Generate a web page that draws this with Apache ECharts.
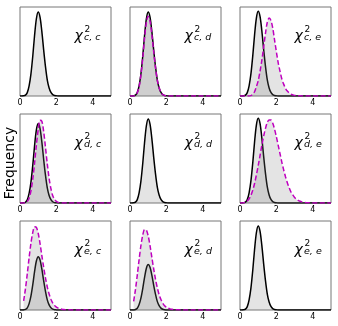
<!DOCTYPE html>
<html>
<head>
<meta charset="utf-8">
<script src="https://cdn.jsdelivr.net/npm/echarts@6/dist/echarts.min.js"></script>
<style>
  html, body { margin: 0; padding: 0; background: #fff; }
  #chart { width: 338px; height: 326px; }
</style>
</head>
<body>
<div id="chart"></div>
<script>
// x positions of the density samples
const xGrid = [0.0,0.1,0.2,0.3,0.4,0.5,0.6,0.7,0.8,0.9,1.0,1.1,1.2,1.3,1.4,1.5,1.6,1.7,1.8,1.9,
  2.0,2.1,2.2,2.3,2.4,2.5,2.6,2.7,2.8,2.9,3.0,3.1,3.2,3.3,3.4,3.5,3.6,3.7,3.8,3.9,
  4.0,4.1,4.2,4.3,4.4,4.5,4.6,4.7,4.8,4.9,5.0];

// black reference curve (same in every panel)
const blackCurve = [0,0,0.002,0.01,0.04,0.12,0.26,0.47,0.72,0.92,1.0,0.94,0.77,0.55,0.35,0.19,0.095,0.042,0.016,0.005,
  0.002,0,0,0,0,0,0,0,0,0,0,0,0,0,0,0,0,0,0,0,0,0,0,0,0,0,0,0,0,0,0];

// magenta dashed curves
const magCD = [0,0,0,0.01,0.04,0.11,0.25,0.45,0.69,0.88,0.95,0.89,0.73,0.53,0.34,0.19,0.10,0.045,0.018,0.006,
  0.002,0,0,0,0,0,0,0,0,0,0,0,0,0,0,0,0,0,0,0,0,0,0,0,0,0,0,0,0,0,0];
const magCE = [0,0,0,0,0,0,0.005,0.02,0.05,0.11,0.18,0.29,0.42,0.58,0.74,0.87,0.92,0.89,0.80,0.66,
  0.52,0.39,0.29,0.20,0.14,0.09,0.058,0.037,0.021,0.013,0.007,0.005,0.003,0.002,0.001,0.001,0,0,0,0,
  0,0,0,0,0,0,0,0,0,0,0];
const magDC = [0,0,0,0.005,0.02,0.06,0.15,0.30,0.50,0.73,0.92,1.04,1.03,0.90,0.70,0.49,0.31,0.18,0.09,0.045,
  0.02,0.008,0.003,0,0,0,0,0,0,0,0,0,0,0,0,0,0,0,0,0,0,0,0,0,0,0,0,0,0,0,0];
const magDE = [0,0,0.003,0.01,0.025,0.05,0.09,0.15,0.23,0.33,0.44,0.56,0.68,0.79,0.88,0.95,0.98,0.98,0.94,0.87,
  0.78,0.68,0.58,0.48,0.39,0.31,0.24,0.18,0.13,0.095,0.065,0.045,0.03,0.02,0.013,0.008,0.005,0.003,0.002,0.001,
  0.001,0,0,0,0,0,0,0,0,0,0];
const magEC = [null,null,0.17,0.40,0.68,0.98,1.25,1.45,1.56,1.55,1.44,1.25,1.02,0.80,0.60,0.43,0.30,0.20,0.13,0.085,
  0.055,0.035,0.022,0.014,0.009,0.006,0.004,0.003,0.002,0.001,0.001,0,0,0,0,0,0,0,0,0,
  0,0,0,0,0,0,0,0,0,0,0];
const magED = [null,null,0.19,0.45,0.77,1.11,1.42,1.65,1.77,1.76,1.63,1.42,1.16,0.91,0.68,0.49,0.34,0.23,0.15,0.096,
  0.062,0.04,0.025,0.016,0.01,0.007,0.004,0.003,0.002,0.001,0.001,0,0,0,0,0,0,0,0,0,
  0,0,0,0,0,0,0,0,0,0,0];

const panelSubs = ['c, c', 'c, d', 'c, e', 'd, c', 'd, d', 'd, e', 'e, c', 'e, d', 'e, e'];
const panelMagenta = [null, magCD, magCE, magDC, null, magDE, magEC, magED, null];
const panelYMax = [1.06, 1.06, 1.05, 1.12, 1.06, 1.05, 1.67, 1.96, 1.06];
const xTicks = [0, 2, 4];

const colLeft = [20, 130, 240];
const rowTop = [7, 114, 221];
const gridW = 91, gridH = 89;
const fillColor = 'rgba(128,128,128,0.3)';

const pairs = ys => xGrid.map((x, i) => [x, ys[i]]);

const chart = echarts.init(document.getElementById('chart'));
const grid = [], xAxis = [], yAxis = [], series = [], graphic = [];

panelSubs.forEach((sub, k) => {
  const left = colLeft[k % 3], top = rowTop[Math.floor(k / 3)];
  grid.push({ left, top, width: gridW, height: gridH, show: true,
    borderColor: '#777', borderWidth: 1, backgroundColor: 'transparent' });
  xAxis.push({ type: 'value', gridIndex: k, min: 0, max: 5, interval: 2,
    axisLine: { show: false }, axisTick: { show: false }, splitLine: { show: false },
    axisLabel: { fontSize: 8, color: '#000', margin: 3, fontFamily: 'DejaVu Sans',
      showMaxLabel: false,
      formatter: v => xTicks.includes(v) ? String(v) : '' } });
  yAxis.push({ type: 'value', gridIndex: k, min: 0, max: panelYMax[k],
    axisLine: { show: false }, axisTick: { show: false }, axisLabel: { show: false },
    splitLine: { show: false } });

  series.push({ type: 'line', xAxisIndex: k, yAxisIndex: k, data: pairs(blackCurve),
    symbol: 'none', smooth: 0.3, lineStyle: { color: '#000', width: 1.5 },
    areaStyle: { color: fillColor }, z: 2 });
  const mag = panelMagenta[k];
  if (mag) {
    series.push({ type: 'line', xAxisIndex: k, yAxisIndex: k, data: pairs(mag),
      symbol: 'none', smooth: 0.3,
      lineStyle: { color: '#bf00bf', width: 1.5, type: [5, 2.5] },
      areaStyle: { color: fillColor }, z: 3 });
  }

  // χ² label with subscript
  graphic.push(
    { type: 'text', x: left + 54.5, y: top + 29, z: 10,
      style: { text: 'χ', font: 'italic 14px "DejaVu Sans"', fill: '#000',
        textAlign: 'left', textVerticalAlign: 'middle' } },
    { type: 'text', x: left + 64.5, y: top + 22.5, z: 10,
      style: { text: '2', font: '9px "DejaVu Sans"', fill: '#000',
        textAlign: 'left', textVerticalAlign: 'middle' } },
    { type: 'text', x: left + 64, y: top + 31, z: 10,
      style: { text: sub, font: 'italic 9.5px "DejaVu Sans"', fill: '#000',
        textAlign: 'left', textVerticalAlign: 'middle' } }
  );
});

graphic.push({ type: 'text', x: 10, y: 163, rotation: Math.PI / 2, z: 10,
  style: { text: 'Frequency', font: '14px "DejaVu Sans"', fill: '#000',
    textAlign: 'center', textVerticalAlign: 'middle' } });

chart.setOption({
  animation: false,
  grid, xAxis, yAxis, series, graphic
});
</script>
</body>
</html>
